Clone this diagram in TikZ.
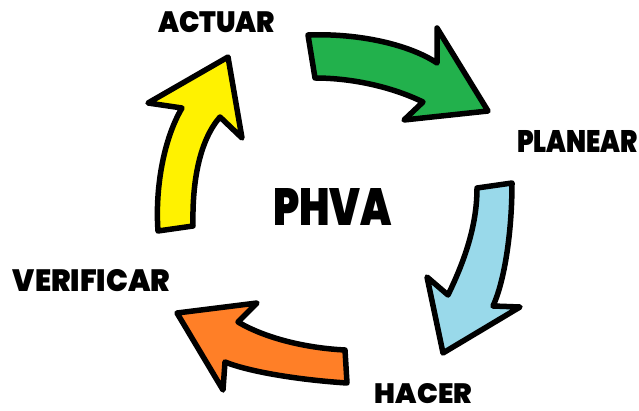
\documentclass[tikz,border=0pt]{standalone}
\usepackage{fontspec}
\usepackage{graphicx}
\newfontfamily\labfont{Poppins}[UprightFont={* Black}]
% Set a label stretched to a given width and cap height
\newcommand\fitlabel[3]{\resizebox{#1}{#2}{\labfont #3}}
\definecolor{pdcaGreen}{HTML}{22B14C}
\definecolor{pdcaBlue}{HTML}{99D9EA}
\definecolor{pdcaOrange}{HTML}{FF7F27}
\definecolor{pdcaYellow}{HTML}{FFF200}
\begin{document}
\begin{tikzpicture}[x=1pt,y=-1pt,
  cyclearrow/.style={draw=black,line width=5.5pt,line join=round},
  lbl/.style={inner sep=0pt,anchor=center}]
\useasboundingbox (0,0) rectangle (639,411);

% Planear -> Hacer -> Verificar -> Actuar cycle arrows
\path[cyclearrow,fill=pdcaGreen]
  (308,35) .. controls (360,33) and (410,45) .. (437,63)
  -- (437,28) -- (488,111) -- (404,120) -- (423,102)
  .. controls (390,86) and (350,78) .. (315,78) -- cycle;

\path[cyclearrow,fill=pdcaBlue]
  (477,188) -- (512,183)
  .. controls (512,230) and (505,280) .. (493,306)
  -- (520,307) -- (443,353) -- (427,277) -- (448,295)
  .. controls (465,260) and (477,225) .. (477,188) -- cycle;

\path[cyclearrow,fill=pdcaOrange]
  (345,350) -- (347,383)
  .. controls (300,380) and (250,372) .. (225,362)
  -- (223,390) -- (177,313) -- (257,303) -- (238,322)
  .. controls (265,338) and (305,348) .. (345,350) -- cycle;

\path[cyclearrow,fill=pdcaYellow]
  (158,231) -- (193,226)
  .. controls (192,180) and (200,140) .. (220,117)
  -- (242,138) -- (228,57) -- (148,103) -- (182,108)
  .. controls (163,140) and (155,190) .. (158,231) -- cycle;

% Labels
\node[lbl] (actuar)    at (216.5,22.5) {\fitlabel{117pt}{21pt}{ACTUAR}};
\node[lbl] (planear)   at (577.5,141)  {\fitlabel{121pt}{22pt}{PLANEAR}};
\node[lbl] (hacer)     at (423.5,394)  {\fitlabel{97pt}{20pt}{HACER}};
\node[lbl] (verificar) at (91.5,281)   {\fitlabel{157pt}{22pt}{VERIFICAR}};
\node[lbl] (phva)      at (332.5,206.5){\fitlabel{119pt}{37pt}{PHVA}};
\end{tikzpicture}
\end{document}
